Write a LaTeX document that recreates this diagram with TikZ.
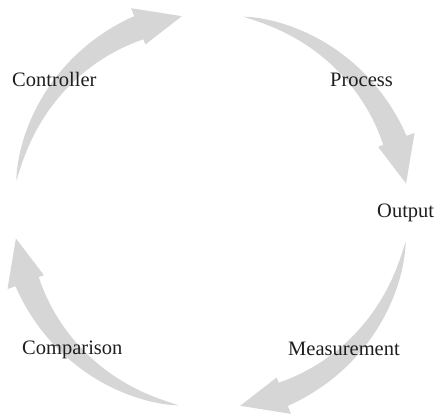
\documentclass[tikz,border=0pt]{standalone}
\usepackage{fontspec}
\setmainfont{Liberation Serif}
\definecolor{arrowgray}{RGB}{214,214,214}
\definecolor{labelink}{RGB}{30,30,30}
\tikzset{
  cyclearrow/.style={fill=arrowgray, draw=none},
  steplabel/.style={anchor=base west, inner sep=0pt, text=labelink, font=\fontsize{20.5}{24}\selectfont}
}
\newcommand\drawcyclearrow[1]{%
  \fill[cyclearrow]
    plot[domain=0.001:1, samples=40] ({#1-59.5*\x}:{197+12.5*pow(\x,0.75)})
    -- ({#1-59.5}:218) -- ({#1-72.5}:197) -- ({#1-59.5}:179)
    -- ({#1-59.5}:184.5)
    -- plot[domain=1:0.001, samples=40] ({#1-59.5*\x}:{197-12.5*pow(\x,0.75)})
    -- cycle;}
\begin{document}
\begin{tikzpicture}[x=1pt, y=1pt]
  \useasboundingbox (0,0) rectangle (435,417);
  \begin{scope}[shift={(211,206)}]
    \drawcyclearrow{171}
    \drawcyclearrow{80.5}
    \drawcyclearrow{-9}
    \drawcyclearrow{-99.5}
  \end{scope}
  \node[steplabel] (controller) at (12,330) {Controller};
  \node[steplabel] (process) at (330,330) {Process};
  \node[steplabel] (output) at (377,199) {Output};
  \node[steplabel] (measurement) at (288,62) {Measurement};
  \node[steplabel] (comparison) at (22,63) {Comparison};
\end{tikzpicture}
\end{document}
